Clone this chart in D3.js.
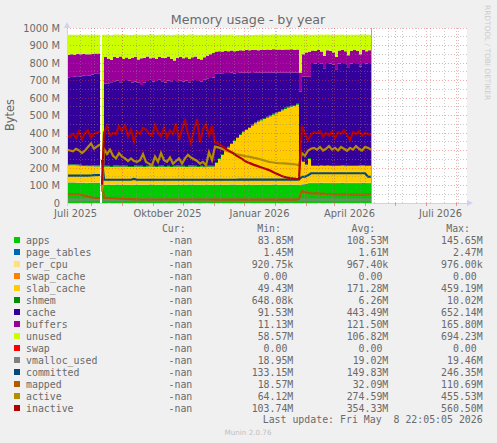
<!DOCTYPE html>
<html>
<head>
<meta charset="utf-8">
<script src="https://cdn.jsdelivr.net/npm/d3@7"></script>
<style>
  body { margin: 0; background: #f0f0f0; }
  svg { display: block; }
  text { font-family: "DejaVu Sans", sans-serif; fill: #6a6a6a; }
  .mono { font-family: "DejaVu Sans Mono", monospace; font-size: 9.9px; white-space: pre; }
</style>
</head>
<body>
<div class="bg"></div>
<script>
// day offsets of the samples, counted from the left edge of the chart
const sampleDays = [
  0,3,6,9,12,15,18,21,24,27,
  33,34,35,37,40,43,46,49,52,55,
  58,61,64,67,70,73,76,79,82,85,
  88,91,94,97,100,103,106,109,112,115,
  118,121,124,127,130,133,136,139,142,145,
  148,151,154,157,160,163,166,169,172,175,
  178,181,184,187,190,193,196,199,202,205,
  208,211,214,217,220,223,226,229,232,235,
  238,241,244,247,250,253,256,259,262,265,
  268,271,274,277,280,283,286,289,292,295,
  298,301,304];

// all values in millions of bytes
const apps = [
  115,115,115,114,114,114,113,114,114,114,
  114,null,84,103,103,103,103,104,103,103,
  103,103,102,103,103,103,103,103,104,103,
  103,103,103,102,103,103,103,103,103,103,
  103,104,103,103,103,103,102,103,103,103,
  103,103,103,103,103,104,103,103,103,103,
  103,103,102,103,103,103,103,103,103,104,
  103,103,103,103,103,103,103,103,100,105,
  110,113,113,113,113,114,113,113,113,113,
  113,113,114,113,113,113,113,113,113,114,
  113,113,113];
const page_tables = [
  1.6,1.6,1.6,1.6,1.6,1.6,1.6,1.6,1.6,1.6,
  1.6,null,1.5,1.6,1.6,1.6,1.6,1.6,1.6,1.6,
  1.6,1.6,1.6,1.6,1.6,1.6,1.6,1.6,1.6,1.6,
  1.6,1.6,1.6,1.6,1.6,1.6,1.6,1.6,1.6,1.6,
  1.6,1.6,1.6,1.6,1.6,1.6,1.6,1.6,1.6,1.6,
  1.6,1.6,1.6,1.6,1.6,1.6,1.6,1.6,1.6,1.6,
  1.6,1.6,1.6,1.6,1.6,1.6,1.6,1.6,1.6,1.6,
  1.6,1.6,1.6,1.6,1.6,1.6,1.6,1.6,2.4,1.6,
  1.6,1.6,1.6,1.6,1.6,1.6,1.6,1.6,1.6,1.6,
  1.6,1.6,1.6,1.6,1.6,1.6,1.6,1.6,1.6,1.6,
  1.6,1.6,1.6];
const per_cpu = [
  1,1,1,1,1,1,1,1,1,1,
  1,null,0.9,1,1,1,1,1,1,1,
  1,1,1,1,1,1,1,1,1,1,
  1,1,1,1,1,1,1,1,1,1,
  1,1,1,1,1,1,1,1,1,1,
  1,1,1,1,1,1,1,1,1,1,
  1,1,1,1,1,1,1,1,1,1,
  1,1,1,1,1,1,1,1,1,1,
  1,1,1,1,1,1,1,1,1,1,
  1,1,1,1,1,1,1,1,1,1,
  1,1,1];
const swap_cache = [
  0,0,0,0,0,0,0,0,0,0,
  0,null,0,0,0,0,0,0,0,0,
  0,0,0,0,0,0,0,0,0,0,
  0,0,0,0,0,0,0,0,0,0,
  0,0,0,0,0,0,0,0,0,0,
  0,0,0,0,0,0,0,0,0,0,
  0,0,0,0,0,0,0,0,0,0,
  0,0,0,0,0,0,0,0,0,0,
  0,0,0,0,0,0,0,0,0,0,
  0,0,0,0,0,0,0,0,0,0,
  0,0,0];
const slab_cache = [
  97,98,98,97,96,95,94,94,93,92,
  92,null,49,101,101,100,102,101,101,102,
  101,100,101,102,101,101,100,101,102,101,
  100,101,102,101,101,100,101,102,101,101,
  100,101,102,101,100,101,100,101,101,101,
  123,146,168,190,210,230,249,266,283,298,
  311,323,337,348,358,366,374,381,389,398,
  406,414,423,432,439,444,449,456,140,127,
  104,136,96,96,96,96,96,97,96,96,
  96,96,96,95,96,96,96,96,97,96,
  96,96,96];
const shmem = [
  6,6,6,6,6,6,6,6,6,6,
  6,null,0.7,6,6,6,6,6,6,6,
  6,6,6,6,6,6,6,6,6,6,
  6,6,6,6,6,6,6,6,6,6,
  6,6,6,6,6,6,6,6,6,6,
  6,6,6,6,6,6,6,6,6,6,
  6,6,6,6,6,6,6,6,6,6,
  6,6,6,6,6,6,6,6,6,5,
  5,5,5,5,5,5,5,5,5,5,
  5,5,5,5,5,5,5,5,5,5,
  5,5,5];
const cache = [
  495,498,500,505,503,509,514,511,519,527,
  530,null,120,470,472,478,482,486,478,484,
  490,487,476,480,474,462,476,484,488,480,
  486,492,482,476,488,484,490,478,486,482,
  488,476,484,490,486,480,494,498,502,505,
  507,484,462,441,421,402,380,365,349,334,
  321,309,295,285,275,267,259,252,244,235,
  227,219,210,201,194,189,185,177,386,482,
  500,465,583,580,583,578,553,583,580,573,
  548,581,583,578,555,580,583,578,563,583,
  580,583,583];
const buffers = [
  132,130,126,127,128,126,120,123,118,113,
  112,null,11,152,140,129,140,129,147,125,
  129,125,141,142,133,153,143,141,124,139,
  127,130,133,141,137,129,112,139,137,133,
  133,135,135,135,127,127,128,129,135,140,
  124,125,124,126,125,127,126,128,129,128,
  130,129,131,130,128,131,130,132,131,133,
  130,132,131,133,132,134,130,132,110,128,
  138,143,72,73,75,70,70,72,73,70,
  70,74,75,73,73,73,75,75,70,75,
  71,73,73];
const unused = [
  114,112,114,110,112,109,112,111,109,107,
  105,null,694,127,137,142,127,134,124,140,
  130,137,132,127,142,134,130,124,137,130,
  136,127,134,132,124,136,147,132,126,134,
  128,138,130,124,136,142,127,122,112,104,
  96,95,96,93,94,91,91,89,88,89,
  87,88,86,87,89,86,87,85,86,84,
  87,85,86,84,85,83,87,85,217,112,
  102,97,90,92,87,97,122,90,92,102,
  127,90,87,94,117,92,87,92,112,87,
  94,89,89];
const swap = [
  0,0,0,0,0,0,0,0,0,0,
  0,null,0,0,0,0,0,0,0,0,
  0,0,0,0,0,0,0,0,0,0,
  0,0,0,0,0,0,0,0,0,0,
  0,0,0,0,0,0,0,0,0,0,
  0,0,0,0,0,0,0,0,0,0,
  0,0,0,0,0,0,0,0,0,0,
  0,0,0,0,0,0,0,0,0,0,
  0,0,0,0,0,0,0,0,0,0,
  0,0,0,0,0,0,0,0,0,0,
  0,0,0];
const vmalloc_used = [
  19,19,19,19,19,19,19,19,19,19,
  19,null,19,19,19,19,19,19,19,19,
  19,19,19,19,19,19,19,19,19,19,
  19,19,19,19,19,19,19,19,19,19,
  19,19,19,19,19,19,19,19,19,19,
  19,19,19,19,19,19,19,19,19,19,
  19,19,19,19,19,19,19,19,19,19,
  19,19,19,19,19,19,19,19,19,19,
  19,19,19,19,19,19,19,19,19,19,
  19,19,19,19,19,19,19,19,19,19,
  19,19,19];
const committed = [
  156,156,156,156,156,156,156,156,157,159,
  160,null,246,133,133,133,133,133,133,133,
  133,133,133,138,133,133,133,133,133,133,
  133,133,133,133,133,133,133,133,133,133,
  133,133,133,133,133,133,133,133,133,133,
  133,133,133,133,133,133,133,133,134,134,
  134,134,134,134,134,134,134,134,134,134,
  134,134,134,134,134,134,134,134,135,150,
  150,158,170,170,170,170,170,170,170,170,
  170,170,170,170,170,170,170,170,170,170,
  170,150,150];
const mapped = [
  50,50,50,50,50,46,42,37,33,30,
  27,null,110,30,29,28,27,26,25,24,
  23,22,22,21,21,20,20,20,20,20,
  20,20,20,20,20,20,20,20,20,20,
  20,20,20,20,20,20,20,20,20,20,
  19,19,19,19,19,19,19,19,19,19,
  19,19,19,19,19,19,19,19,19,19,
  19,19,19,19,19,19,19,19,22,68,
  62,58,55,54,56,52,53,50,51,50,
  49,50,48,49,50,48,49,47,48,49,
  48,50,50];
const active = [
  305,300,295,310,300,285,300,320,340,310,
  335,null,64,310,280,305,270,255,285,265,
  255,240,255,240,235,245,280,235,225,215,
  265,235,285,245,235,260,225,240,255,225,
  255,275,260,250,240,225,235,215,290,245,
  322,318,312,305,298,292,285,280,276,272,
  268,265,262,258,255,250,245,240,235,233,
  230,228,227,226,225,224,222,220,215,285,
  270,300,310,315,305,320,300,310,325,305,
  315,300,320,310,298,315,305,325,310,300,
  320,315,305];
const inactive = [
  385,380,395,370,410,365,400,415,375,395,
  410,null,105,400,440,385,400,395,440,410,
  445,380,420,350,410,395,430,420,395,385,
  445,405,380,430,375,415,395,455,360,425,
  470,395,340,420,480,345,425,450,385,440,
  345,340,330,318,305,295,285,272,262,252,
  240,232,225,218,212,206,200,194,188,180,
  172,164,156,150,146,142,140,138,137,440,
  395,360,390,405,400,410,380,400,385,410,
  370,405,395,415,390,360,405,395,410,385,
  400,395,390];

const areaNames = ["apps", "page_tables", "per_cpu", "swap_cache", "slab_cache", "shmem", "cache", "buffers", "unused", "swap"];
const areaValues = [apps, page_tables, per_cpu, swap_cache, slab_cache, shmem, cache, buffers, unused, swap];
const lineNames = ["vmalloc_used", "committed", "mapped", "active", "inactive"];
const lineValues = [vmalloc_used, committed, mapped, active, inactive];

const colors = {
  apps: "#00CC00", page_tables: "#0066B3", per_cpu: "#FFE080", swap_cache: "#FF8000",
  slab_cache: "#FFCC00", shmem: "#008F00", cache: "#330099", buffers: "#990099",
  unused: "#CCFF00", swap: "#FF0000", vmalloc_used: "#808080", committed: "#00487D",
  mapped: "#B35A00", active: "#B38F00", inactive: "#B30000"
};

const legendNames = areaNames.concat(lineNames);
const curStats = legendNames.map(() => "-nan");
const minStats = ["83.85M", "1.45M", "920.75k", "0.00 ", "49.43M", "648.08k", "91.53M", "11.13M", "58.57M", "0.00 ", "18.95M", "133.15M", "18.57M", "64.12M", "103.74M"];
const avgStats = ["108.53M", "1.61M", "967.40k", "0.00 ", "171.28M", "6.26M", "443.49M", "121.50M", "106.82M", "0.00 ", "19.02M", "149.83M", "32.09M", "274.59M", "354.33M"];
const maxStats = ["145.65M", "2.47M", "976.00k", "0.00 ", "459.19M", "10.02M", "652.14M", "165.80M", "694.23M", "0.00 ", "19.46M", "246.35M", "110.69M", "455.53M", "560.50M"];

const yTicks = [0, 100, 200, 300, 400, 500, 600, 700, 800, 900, 1000];
const yMinorTicks = [50, 150, 250, 350, 450, 550, 650, 750, 850, 950];
const monthLabels = { "2025-07": "Juli 2025", "2025-10": "Oktober 2025", "2026-01": "Januar 2026", "2026-04": "April 2026", "2026-07": "Juli 2026" };

const margin = { top: 28, left: 67 };
const width = 400;
const height = 175;

const startDate = new Date(Date.UTC(2025, 5, 7));
const endDate = d3.utcDay.offset(startDate, width);

const svg = d3.select(".bg").append("svg")
  .attr("width", 497)
  .attr("height", 443)
  .style("background", "#f0f0f0");

const chart = svg.append("g")
  .attr("transform", "translate(" + margin.left + "," + margin.top + ")");

const xScale = d3.scaleUtc().domain([startDate, endDate]).range([0, width]);
const yScale = d3.scaleLinear().domain([0, 1000]).range([height, 0]);

const samples = sampleDays.map(d => d3.utcDay.offset(startDate, d));

chart.append("rect")
  .attr("width", width)
  .attr("height", height)
  .attr("fill", "#fff");

// stacked areas, same order as the legend
const table = samples.map((date, i) => {
  const row = { date: date, gap: areaValues[0][i] === null };
  areaNames.forEach((name, k) => { row[name] = areaValues[k][i] || 0; });
  return row;
});

const stack = d3.stack().keys(areaNames);

const area = d3.area()
  .defined(d => !d.data.gap)
  .curve(d3.curveStepAfter)
  .x(d => xScale(d.data.date))
  .y0(d => yScale(d[0]))
  .y1(d => yScale(d[1]));

chart.selectAll(".layer")
  .data(stack(table))
  .enter().append("path")
  .attr("class", "layer")
  .attr("fill", d => colors[d.key])
  .attr("d", area);

// lines on top of the stack
const line = d3.line()
  .defined(d => d.value !== null)
  .x(d => xScale(d.date))
  .y(d => yScale(d.value));

lineNames.forEach((name, k) => {
  chart.append("path")
    .datum(samples.map((date, i) => ({ date: date, value: lineValues[k][i] })))
    .attr("fill", "none")
    .attr("stroke", colors[name])
    .attr("stroke-width", 2.2)
    .attr("d", line);
});

// grid is drawn over the chart, dotted and see-through
const minorDates = d3.utcDay.range(new Date(Date.UTC(2025, 5, 19, 12)), endDate, 14);
const months = d3.utcMonth.range(startDate, endDate);

const grid = chart.append("g").attr("shape-rendering", "crispEdges").attr("fill", "none");

grid.selectAll(".minor-x").data(minorDates).enter().append("line")
  .attr("x1", d => xScale(d)).attr("x2", d => xScale(d))
  .attr("y1", 0).attr("y2", height)
  .attr("stroke", "rgba(140,140,140,0.45)").attr("stroke-dasharray", "1,2");

grid.selectAll(".minor-y").data(yMinorTicks).enter().append("line")
  .attr("x1", 0).attr("x2", width)
  .attr("y1", d => yScale(d)).attr("y2", d => yScale(d))
  .attr("stroke", "rgba(140,140,140,0.45)").attr("stroke-dasharray", "1,2");

grid.selectAll(".major-x").data(months).enter().append("line")
  .attr("x1", d => xScale(d)).attr("x2", d => xScale(d))
  .attr("y1", 0).attr("y2", height)
  .attr("stroke", "rgba(230,60,60,0.4)").attr("stroke-dasharray", "1,2");

grid.selectAll(".major-y").data(yTicks).enter().append("line")
  .attr("x1", 0).attr("x2", width)
  .attr("y1", d => yScale(d)).attr("y2", d => yScale(d))
  .attr("stroke", "rgba(230,60,60,0.45)").attr("stroke-dasharray", "1,2");

// vertical rule where the data stops
chart.append("line")
  .attr("x1", xScale(samples[samples.length - 1]) + 0.5)
  .attr("x2", xScale(samples[samples.length - 1]) + 0.5)
  .attr("y1", 0).attr("y2", height)
  .attr("stroke", "#a8a8a8");

// axes
const xAxis = d3.axisBottom(xScale)
  .tickValues(months)
  .tickSize(3)
  .tickFormat(d => monthLabels[d3.utcFormat("%Y-%m")(d)] || "");

const yAxis = d3.axisLeft(yScale)
  .tickValues(yTicks)
  .tickSize(0)
  .tickPadding(7)
  .tickFormat(d => d === 0 ? "0" : d + " M");

const xG = chart.append("g").attr("transform", "translate(0," + height + ")").call(xAxis);
const yG = chart.append("g").call(yAxis);

xG.select(".domain").attr("stroke", "#d0d0f0");
yG.select(".domain").attr("stroke", "#d0d0f0");
xG.selectAll(".tick line").attr("stroke", "rgba(230,60,60,0.5)");
xG.selectAll("text").attr("dx", -16).attr("y", 7).style("font-size", "9.9px").style("fill", "#6a6a6a");
yG.selectAll("text").style("font-size", "9.9px").style("fill", "#6a6a6a");

// little arrows at the end of the axes
chart.append("path").attr("fill", "#d0d0f0").attr("d", d3.line()([[-3, 0], [3, 0], [0, -6]]));
chart.append("path").attr("fill", "#d0d0f0").attr("d", d3.line()([[width, height - 3], [width, height + 3], [width + 6, height]]));

// title and side texts
svg.append("text").attr("x", 248).attr("y", 24).attr("text-anchor", "middle")
  .style("font-size", "12.7px").text("Memory usage - by year");

svg.append("text").attr("transform", "translate(14,115) rotate(-90)").attr("text-anchor", "middle")
  .style("font-size", "11.4px").text("Bytes");

svg.append("text").attr("transform", "translate(485,5) rotate(90)")
  .style("font-size", "7.4px").style("fill", "#cccccc").text("RRDTOOL / TOBI OETIKER");

// legend table
const legendTop = 240;
const rowH = 12;

[["Cur:", 185.7], ["Min:", 281], ["Avg:", 375.3], ["Max:", 470]].forEach(h => {
  svg.append("text").attr("class", "mono").attr("x", h[1]).attr("y", legendTop - rowH + 3.5)
    .attr("text-anchor", "end").text(h[0]);
});

const rows = svg.selectAll(".legend-row")
  .data(legendNames)
  .enter().append("g")
  .attr("class", "legend-row")
  .attr("transform", (d, i) => "translate(0," + (legendTop + i * rowH) + ")");

rows.append("rect")
  .attr("x", 14).attr("y", -3).attr("width", 6).attr("height", 6)
  .attr("fill", d => colors[d]);

rows.append("text").attr("class", "mono").attr("x", 26).attr("y", 3.5).text(d => d);

[[curStats, 192.3], [minStats, 293.3], [avgStats, 388.3], [maxStats, 482.7]].forEach(col => {
  rows.append("text").attr("class", "mono").attr("x", col[1]).attr("y", 3.5)
    .attr("text-anchor", "end")
    .text((d, i) => col[0][i]);
});

svg.append("text").attr("class", "mono").attr("x", 482.7).attr("y", 422.5)
  .attr("text-anchor", "end").text("Last update: Fri May  8 22:05:05 2026");

svg.append("text").attr("x", 248).attr("y", 434.5).attr("text-anchor", "middle")
  .style("font-size", "7.2px").style("fill", "#c0c0c0").text("Munin 2.0.76");
</script>
</body>
</html>
